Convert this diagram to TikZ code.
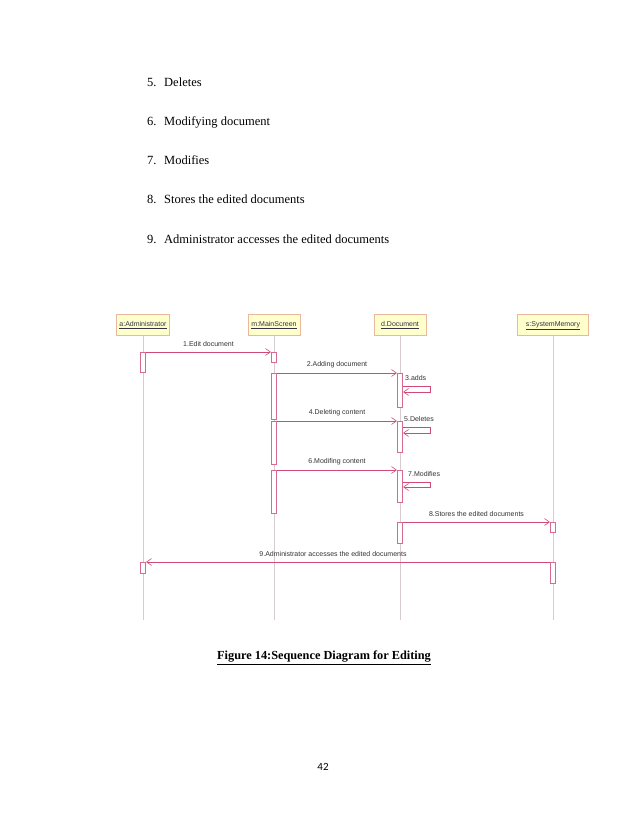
\documentclass[tikz,border=0pt]{standalone}
\usepackage{fontspec}
\setmainfont{Liberation Serif}
\newfontfamily\arialfont{Liberation Sans}
\newfontfamily\calibrifont{Carlito}
\usetikzlibrary{arrows.meta}
\definecolor{msgcol}{HTML}{D04A78}
\definecolor{lifecol}{HTML}{D8CCD2}
\definecolor{actcol}{HTML}{D86A8C}
\definecolor{headfill}{HTML}{FFFFCC}
\definecolor{headdraw}{HTML}{EAB89C}
\definecolor{headtext}{HTML}{333344}
\tikzset{
  listtxt/.style={anchor=base west,inner sep=0pt,font=\fontsize{12.5}{14}\selectfont},
  head/.style={draw=headdraw,fill=headfill,line width=0.6pt,minimum height=21pt,inner sep=0pt,
    text height=5.5pt,text depth=2pt,
    font=\arialfont\fontsize{7}{8}\selectfont,text=headtext},
  life/.style={draw=lifecol,line width=0.6pt},
  act/.style={draw=actcol,fill=white,line width=0.6pt,minimum width=5.5pt,inner sep=0pt},
  msg/.style={draw=msgcol,line width=0.6pt,-{Straight Barb[length=5pt,width=7pt]}},
  lbl/.style={font=\arialfont\fontsize{7}{8}\selectfont,text=black!80,inner sep=0pt},
}
\begin{document}
\begin{tikzpicture}[x=1pt,y=-1pt]
\useasboundingbox[fill=white] (0,0) rectangle (638,826);
% list
\node[listtxt] (n5) at (147,87) {5.};
\node[listtxt] (t5) at (164,87) {Deletes};
\node[listtxt] (n6) at (147,126) {6.};
\node[listtxt] (t6) at (164,126) {Modifying document};
\node[listtxt] (n7) at (147,165) {7.};
\node[listtxt] (t7) at (164,165) {Modifies};
\node[listtxt] (n8) at (147,204) {8.};
\node[listtxt] (t8) at (164,204) {Stores the edited documents};
\node[listtxt] (n9) at (147,243) {9.};
\node[listtxt] (t9) at (164,243) {Administrator accesses the edited documents};
% heads
\node[head,minimum width=53pt] (ha) at (143,325) {\underline{a:Administrator}};
\node[head,minimum width=52pt] (hm) at (274,325) {\underline{m:MainScreen}};
\node[head,minimum width=52pt] (hd) at (400,325) {\underline{d.Document}};
\node[head,minimum width=71pt] (hs) at (553,325) {\underline{s:SystemMemory}};
% lifelines
\coordinate (ea) at (143,620);
\coordinate (em) at (274,620);
\coordinate (ed) at (400,620);
\coordinate (es) at (553,620);
\draw[life] (ha.south) -- (ea);
\draw[life] (hm.south) -- (em);
\draw[life] (hd.south) -- (ed);
\draw[life] (hs.south) -- (es);
% activations
\node[act,minimum height=20pt,anchor=north] (a1) at (143,352) {};
\node[act,minimum height=10pt,anchor=north] (m1) at (274,352) {};
\node[act,minimum height=46pt,anchor=north] (m2) at (274,373) {};
\node[act,minimum height=43pt,anchor=north] (m3) at (274,421) {};
\node[act,minimum height=43pt,anchor=north] (m4) at (274,470) {};
\node[act,minimum height=34pt,anchor=north] (d1) at (400,373) {};
\node[act,minimum height=31pt,anchor=north] (d2) at (400,421) {};
\node[act,minimum height=32pt,anchor=north] (d3) at (400,470) {};
\node[act,minimum height=21pt,anchor=north] (d4) at (400,522) {};
\node[act,minimum height=10pt,anchor=north] (s1) at (553,522) {};
\node[act,minimum height=21pt,anchor=north] (s2) at (553,562) {};
\node[act,minimum height=11pt,anchor=north] (a2) at (143,562) {};
% messages
\draw[msg] (a1.north east) -- node[lbl,above=5pt] (l1) {1.Edit document} (m1.north west);
\draw[msg] (m2.north east) -- node[lbl,above=5pt] (l2) {2.Adding document} (d1.north west);
\draw[msg] (m3.north east) -- node[lbl,above=5pt] (l4) {4.Deleting content} (d2.north west);
\draw[msg] (m4.north east) -- node[lbl,above=5pt] (l6) {6.Modifing content} (d3.north west);
\draw[msg] (d4.north east) -- node[lbl,above=5pt] (l8) {8.Stores the edited documents} (s1.north west);
\draw[msg] (s2.north west) -- node[lbl,above=5pt,xshift=-15pt] (l9) {9.Administrator accesses the edited documents} (a2.north east);
% self messages
\coordinate (d1a) at ([yshift=-13pt]d1.north east);
\coordinate (d1b) at ([yshift=-19pt]d1.north east);
\draw[msg] (d1a) -- ++(27,0) -- ++(0,6) -- (d1b);
\node[lbl,anchor=west] (l3) at (405,378) {3.adds};
\coordinate (d2a) at ([yshift=-6pt]d2.north east);
\coordinate (d2b) at ([yshift=-12pt]d2.north east);
\draw[msg] (d2a) -- ++(27,0) -- ++(0,6) -- (d2b);
\node[lbl,anchor=west] (l5) at (404,419) {5.Deletes};
\coordinate (d3a) at ([yshift=-12pt]d3.north east);
\coordinate (d3b) at ([yshift=-17pt]d3.north east);
\draw[msg] (d3a) -- ++(27,0) -- ++(0,5) -- (d3b);
\node[lbl,anchor=west] (l7) at (408,474) {7.Modifies};
% caption
\node[font=\bfseries\fontsize{12.3}{14}\selectfont,inner sep=0pt] (cap) at (324,658) {\underline{Figure 14:Sequence Diagram for Editing}};
\node[font=\calibrifont\fontsize{11}{13}\selectfont,inner sep=0pt] (pg) at (323,767) {42};
\end{tikzpicture}
\end{document}
